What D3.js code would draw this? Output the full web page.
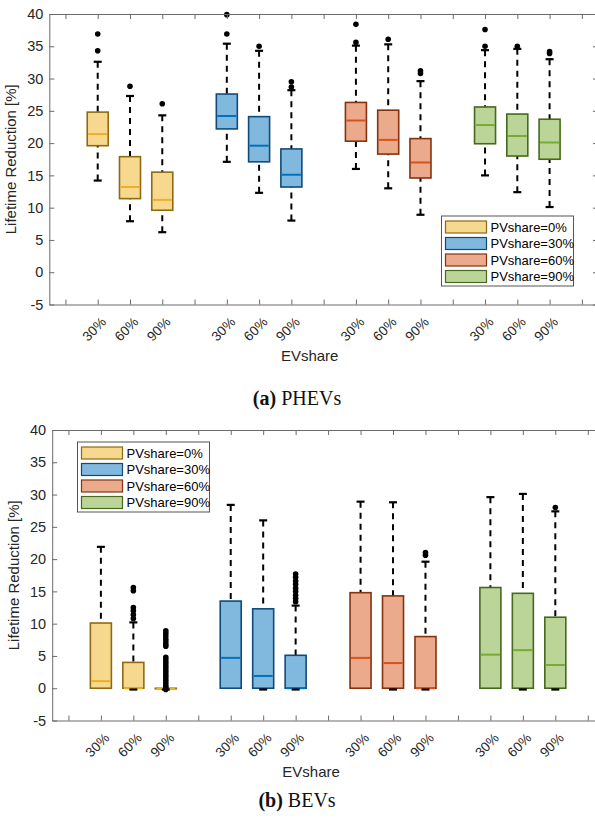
<!DOCTYPE html>
<html>
<head>
<meta charset="utf-8">
<script src="https://cdn.jsdelivr.net/npm/d3@7"></script>
<style>
  body { margin: 0; background: #fff; }
  svg { display: block; }
</style>
</head>
<body>
<div id="chart"></div>
<script>
// categories
const evShares = ["30%", "60%", "90%"];
const pvShares = ["PVshare=0%", "PVshare=30%", "PVshare=60%", "PVshare=90%"];
const yTicks = [-5, 0, 5, 10, 15, 20, 25, 30, 35, 40];

// (a) PHEVs - one row per PV share, one value per EV share
const phevLow  = [[14.2, 7.9, 6.2], [17.1, 12.3, 8.0], [16.0, 13.0, 8.9], [15.0, 12.4, 10.1]];
const phevQ1   = [[19.6, 11.4, 9.6], [22.2, 17.1, 13.2], [20.3, 18.3, 14.6], [19.9, 18.0, 17.5]];
const phevMed  = [[21.4, 13.2, 11.2], [24.2, 19.6, 15.1], [23.5, 20.5, 17.0], [22.8, 21.1, 20.1]];
const phevQ3   = [[24.8, 17.9, 15.5], [27.6, 24.1, 19.1], [26.3, 25.1, 20.7], [25.6, 24.5, 23.7]];
const phevHigh = [[32.6, 27.3, 24.3], [35.4, 34.3, 28.2], [35.1, 35.3, 29.6], [34.4, 34.6, 33.0]];
const phevOut  = [
  [[36.9, 34.3], [28.8], [26.1]],
  [[39.9, 36.9], [35.0], [29.5, 28.7]],
  [[38.4, 35.6], [36.1], [31.2, 30.8]],
  [[37.6, 35.0], [35.0], [34.2, 33.9]]
];

// (b) BEVs
const bevLow  = [[0, -0.2, -0.2], [0, -0.2, -0.2], [0, -0.2, -0.2], [0, -0.2, -0.2]];
const bevQ1   = [[0, 0, 0], [0, 0, 0], [0, 0, 0], [0, 0, 0]];
const bevMed  = [[1.1, 0, 0], [4.7, 1.9, 0], [4.7, 3.9, 0], [5.2, 5.9, 3.6]];
const bevQ3   = [[10.1, 4.0, 0], [13.5, 12.3, 5.1], [14.8, 14.3, 8.0], [15.6, 14.7, 11.0]];
const bevHigh = [[21.9, 10.2, 0], [28.4, 26.0, 12.8], [28.9, 28.8, 19.6], [29.6, 30.1, 27.4]];
const bevOut  = [
  [[], [15.6, 15.1, 12.5, 12.0, 11.4, 10.8],
   [8.9, 8.5, 8.1, 7.6, 7.2, 6.8, 6.5, 4.8, 4.4, 4.0, 3.6, 3.2, 2.8, 2.4, 2.0, 1.6, 1.2, 0.8, 0.4, 0.1, -0.2]],
  [[], [], [17.7, 17.2, 16.6, 16.1, 15.5, 15.0, 14.4, 13.9, 13.4]],
  [[], [], [21.0, 20.6]],
  [[], [], [28.0]]
];

const fillColors   = ["#f6d88f", "#80b8de", "#ecaa8c", "#bbd598"];
const edgeColors   = ["#8e6a13", "#114a7a", "#84320f", "#46691d"];
const medianColors = ["#edb120", "#0072bd", "#d95319", "#77ac30"];

const W = 595, H = 826;
const font = "'Liberation Sans', Arial, sans-serif";
const serif = "'Liberation Serif', 'DejaVu Serif', serif";

const svg = d3.select("#chart").append("svg")
  .attr("width", W).attr("height", H)
  .style("font-family", font);

svg.append("rect").attr("width", W).attr("height", H).attr("fill", "#fff");

function buildBoxes(low, q1, med, q3, high, out) {
  const rows = [];
  pvShares.forEach((pv, g) => {
    evShares.forEach((ev, e) => {
      rows.push({
        g, ev, pos: 4 * g + e + 2,
        low: low[g][e], q1: q1[g][e], med: med[g][e], q3: q3[g][e], high: high[g][e],
        out: out[g][e]
      });
    });
  });
  return rows;
}

function drawPanel(opt) {
  const x = d3.scaleLinear().domain([0.5, 17.5]).range([opt.left, opt.right]);
  const y = d3.scaleLinear().domain([-5, 40]).range([opt.bottom, opt.top]);
  const g = svg.append("g");
  const axisColor = "#6a6a6a";

  // boxes
  const boxW = 21;
  const boxes = g.selectAll(".box").data(opt.data).enter().append("g");

  // whiskers (dashed, start at the cap)
  boxes.filter(d => d.high > d.q3).append("line")
    .attr("x1", d => x(d.pos)).attr("x2", d => x(d.pos))
    .attr("y1", d => y(d.high)).attr("y2", d => y(d.q3))
    .attr("stroke", "#000").attr("stroke-width", 2)
    .attr("stroke-dasharray", "6,5");
  boxes.filter(d => d.low < d.q1).append("line")
    .attr("x1", d => x(d.pos)).attr("x2", d => x(d.pos))
    .attr("y1", d => y(d.low)).attr("y2", d => y(d.q1))
    .attr("stroke", "#000").attr("stroke-width", 2)
    .attr("stroke-dasharray", "6,5");

  boxes.append("rect")
    .attr("x", d => x(d.pos) - boxW / 2)
    .attr("width", boxW)
    .attr("y", d => y(d.q3))
    .attr("height", d => Math.max(y(d.q1) - y(d.q3), 0.5))
    .attr("fill", d => fillColors[d.g])
    .attr("stroke", d => edgeColors[d.g])
    .attr("stroke-width", 1.6);

  boxes.append("line")
    .attr("x1", d => x(d.pos) - boxW / 2 + 1).attr("x2", d => x(d.pos) + boxW / 2 - 1)
    .attr("y1", d => y(d.med)).attr("y2", d => y(d.med))
    .attr("stroke", d => medianColors[d.g]).attr("stroke-width", 2);

  // caps
  boxes.filter(d => d.high > d.q3).append("line")
    .attr("x1", d => x(d.pos) - 4).attr("x2", d => x(d.pos) + 4)
    .attr("y1", d => y(d.high)).attr("y2", d => y(d.high))
    .attr("stroke", "#000").attr("stroke-width", 2.2);
  boxes.filter(d => d.low < d.q1).append("line")
    .attr("x1", d => x(d.pos) - 4).attr("x2", d => x(d.pos) + 4)
    .attr("y1", d => y(d.low)).attr("y2", d => y(d.low))
    .attr("stroke", "#000").attr("stroke-width", 2.2);

  // outliers
  boxes.selectAll(".out").data(d => d.out.map(v => ({ pos: d.pos, v }))).enter()
    .append("circle")
    .attr("cx", d => x(d.pos)).attr("cy", d => y(d.v))
    .attr("r", 2.8).attr("fill", "#000");

  // axes
  const styleAxis = sel => {
    sel.select(".domain").attr("stroke", axisColor);
    sel.selectAll(".tick line").attr("stroke", axisColor);
  };
  g.append("g").attr("transform", `translate(${opt.left},0)`)
    .call(d3.axisLeft(y).tickValues(yTicks).tickSize(-5).tickPadding(6).tickSizeOuter(0)
      .tickFormat(d => String(d)))
    .call(styleAxis)
    .call(s => s.selectAll("text").attr("fill", "#262626").style("font-size", "14.5px").style("font-family", font));
  g.append("g").attr("transform", `translate(${opt.right},0)`)
    .call(d3.axisRight(y).tickValues(yTicks).tickSize(-5).tickFormat("").tickSizeOuter(0))
    .call(styleAxis);
  const xt = d3.range(1, 18);
  g.append("g").attr("transform", `translate(0,${opt.bottom})`)
    .call(d3.axisBottom(x).tickValues(xt).tickSize(-5).tickFormat("").tickSizeOuter(0))
    .call(styleAxis);
  g.append("g").attr("transform", `translate(0,${opt.top})`)
    .call(d3.axisTop(x).tickValues(xt).tickSize(-5).tickFormat("").tickSizeOuter(0))
    .call(styleAxis);

  // x tick labels
  g.selectAll(".xl").data(opt.data).enter().append("text")
    .attr("transform", d => `translate(${x(d.pos) + 6},${opt.bottom + 15}) rotate(-45)`)
    .attr("text-anchor", "end")
    .attr("dy", "0.35em")
    .attr("fill", "#262626")
    .style("font-size", "13.5px")
    .text(d => d.ev);

  g.append("text")
    .attr("x", (opt.left + 520) / 2 + 25).attr("y", opt.bottom + 56)
    .attr("text-anchor", "middle").attr("fill", "#262626")
    .style("font-size", "15px").text("EVshare");

  g.append("text")
    .attr("transform", `translate(${opt.ylabelX},${(opt.top + opt.bottom) / 2}) rotate(-90)`)
    .attr("text-anchor", "middle").attr("fill", "#262626")
    .style("font-size", "15px").text("Lifetime Reduction [%]");

  // legend
  const lg = g.append("g").attr("transform", `translate(${opt.legend[0]},${opt.legend[1]})`);
  lg.append("rect").attr("width", 132).attr("height", 70)
    .attr("fill", "#fff").attr("stroke", "#555").attr("stroke-width", 1);
  pvShares.forEach((name, i) => {
    const row = lg.append("g").attr("transform", `translate(4,${5 + i * 16.5})`);
    row.append("rect").attr("width", 41).attr("height", 12)
      .attr("fill", fillColors[i]).attr("stroke", edgeColors[i]).attr("stroke-width", 1.2);
    row.append("text").attr("x", 45).attr("y", 6).attr("dy", "0.35em")
      .attr("fill", "#000").style("font-size", "13px").text(name);
  });

  // caption
  const cap = svg.append("text")
    .attr("x", 297).attr("y", opt.captionY)
    .attr("text-anchor", "middle")
    .style("font-family", serif).style("font-size", "20px").attr("fill", "#111");
  cap.append("tspan").style("font-weight", "bold").text(opt.captionTag);
  cap.append("tspan").text(" " + opt.captionText);
}

drawPanel({
  left: 49.3, right: 598, top: 14, bottom: 304.5, ylabelX: 16,
  legend: [441.5, 216],
  captionY: 405, captionTag: "(a)", captionText: "PHEVs",
  data: buildBoxes(phevLow, phevQ1, phevMed, phevQ3, phevHigh, phevOut)
});

drawPanel({
  left: 52.2, right: 604, top: 430, bottom: 720.5, ylabelX: 19,
  legend: [77.5, 442],
  captionY: 807, captionTag: "(b)", captionText: "BEVs",
  data: buildBoxes(bevLow, bevQ1, bevMed, bevQ3, bevHigh, bevOut)
});
</script>
</body>
</html>
